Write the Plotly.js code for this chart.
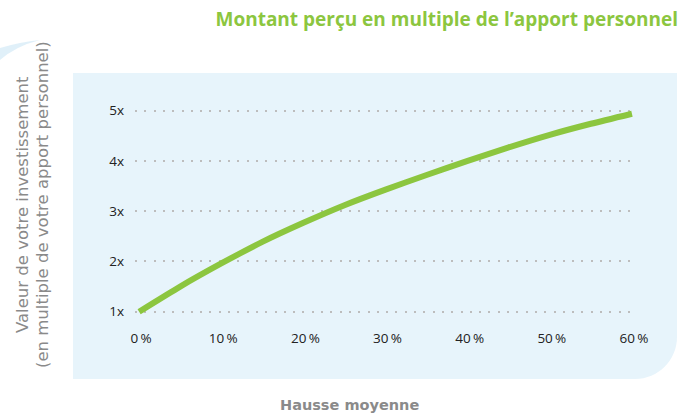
<!DOCTYPE html>
<html>
<head>
<meta charset="utf-8">
<script src="https://cdn.plot.ly/plotly-3.0.1.min.js"></script>
<style>
  html, body { margin: 0; padding: 0; background: #ffffff; }
  #chart { width: 681px; height: 416px; }
</style>
</head>
<body>
<div id="chart"></div>
<script>
// ---- data ----
const hausse = [0, 5, 10, 15, 20, 25, 30, 35, 40, 45, 50, 55, 60];           // hausse moyenne (%)
const multiple = [1.00, 1.50, 1.96, 2.39, 2.77, 3.12, 3.43, 3.72, 4.00, 4.27, 4.52, 4.74, 4.94];
const xTickVals = [0, 10, 20, 30, 40, 50, 60];
const xTickText = ["0\u2009%", "10\u2009%", "20\u2009%", "30\u2009%", "40\u2009%", "50\u2009%", "60\u2009%"];
const yTickVals = [1, 2, 3, 4, 5];
const yTickText = ["1x", "2x", "3x", "4x", "5x"];
const titleText = "Montant perçu en multiple de l\u2019apport personnel";
const yTitleLines = ["Valeur de votre investissement", "(en multiple de votre apport personnel)"];
const xTitleText = "Hausse moyenne";

// ---- layout geometry (pixels) ----
const W = 681, H = 416;
const M = { l: 135, r: 47, t: 100, b: 94 };
const pw = W - M.l - M.r, ph = H - M.t - M.b;
const px = v => (v - M.l) / pw;           // pixel x -> paper x
const py = v => (H - M.b - v) / ph;       // pixel y -> paper y

// background panel with rounded bottom-right corner
const bx0 = px(73), bx1 = px(677), by0 = py(379), by1 = py(73);
const rx = 42 / pw, ry = 42 / ph, k = 0.45;
const bgPath = `M ${bx0},${by1} L ${bx1},${by1} L ${bx1},${by0 + ry} ` +
  `C ${bx1},${by0 + ry * k} ${bx1 - rx * k},${by0} ${bx1 - rx},${by0} L ${bx0},${by0} Z`;

// decorative swoosh top-left
const swoosh = `M ${px(0)},${py(48)} Q ${px(20)},${py(42)} ${px(40)},${py(40)} ` +
  `Q ${px(16)},${py(46)} ${px(0)},${py(60)} Z`;

const trace = {
  x: hausse, y: multiple, type: 'scatter', mode: 'lines',
  line: { color: '#8CC63F', width: 6, shape: 'spline', smoothing: 0.6 },
  hoverinfo: 'x+y', showlegend: false
};

const tickFont = { family: 'Open Sans, Noto Sans, sans-serif', size: 13.5, color: '#222222' };
const yTitleFont = { family: 'DejaVu Sans, sans-serif', size: 16.5, color: '#8a8a8a' };

const layout = {
  width: W, height: H,
  margin: M,
  paper_bgcolor: '#ffffff',
  plot_bgcolor: 'rgba(0,0,0,0)',
  showlegend: false,
  title: {
    text: '<b>' + titleText + '</b>',
    font: { family: 'Open Sans, Noto Sans, sans-serif', size: 19, color: '#8CC63F' },
    xref: 'container', yref: 'container',
    x: 678 / W, xanchor: 'right',
    y: 1 - 19 / H, yanchor: 'middle'
  },
  xaxis: {
    range: [-0.5, 60.25],
    tickvals: xTickVals, ticktext: xTickText,
    tickfont: tickFont,
    showgrid: false, zeroline: false, showline: false,
    ticks: '', ticklabelstandoff: 6, ticklabelshift: 2,
    fixedrange: true
  },
  yaxis: {
    range: [0.795, 5.213],
    tickvals: yTickVals, ticktext: yTickText,
    tickfont: tickFont,
    showgrid: true, gridcolor: '#bdbdbd', gridwidth: 2, griddash: '2px,7.3px',
    zeroline: false, showline: false,
    ticks: '', ticklabelstandoff: 10,
    fixedrange: true
  },
  shapes: [
    { type: 'path', xref: 'paper', yref: 'paper', path: bgPath,
      fillcolor: '#E7F4FB', line: { width: 0 }, layer: 'below' },
    { type: 'path', xref: 'paper', yref: 'paper', path: swoosh,
      fillcolor: '#D3E9F6', opacity: 0.7, line: { width: 0 }, layer: 'below' }
  ],
  annotations: [
    { text: yTitleLines[0], textangle: -90, showarrow: false,
      xref: 'paper', yref: 'paper', x: px(22), y: py(205),
      xanchor: 'center', yanchor: 'middle', font: yTitleFont },
    { text: yTitleLines[1], textangle: -90, showarrow: false,
      xref: 'paper', yref: 'paper', x: px(42), y: py(205),
      xanchor: 'center', yanchor: 'middle', font: yTitleFont },
    { text: '<b>' + xTitleText + '</b>', showarrow: false,
      xref: 'paper', yref: 'paper', x: px(349), y: py(405),
      xanchor: 'center', yanchor: 'middle',
      font: { family: 'DejaVu Sans, sans-serif', size: 14.5, color: '#8a8a8a' } }
  ]
};

Plotly.newPlot('chart', [trace], layout, { displayModeBar: false, staticPlot: true });
</script>
</body>
</html>
